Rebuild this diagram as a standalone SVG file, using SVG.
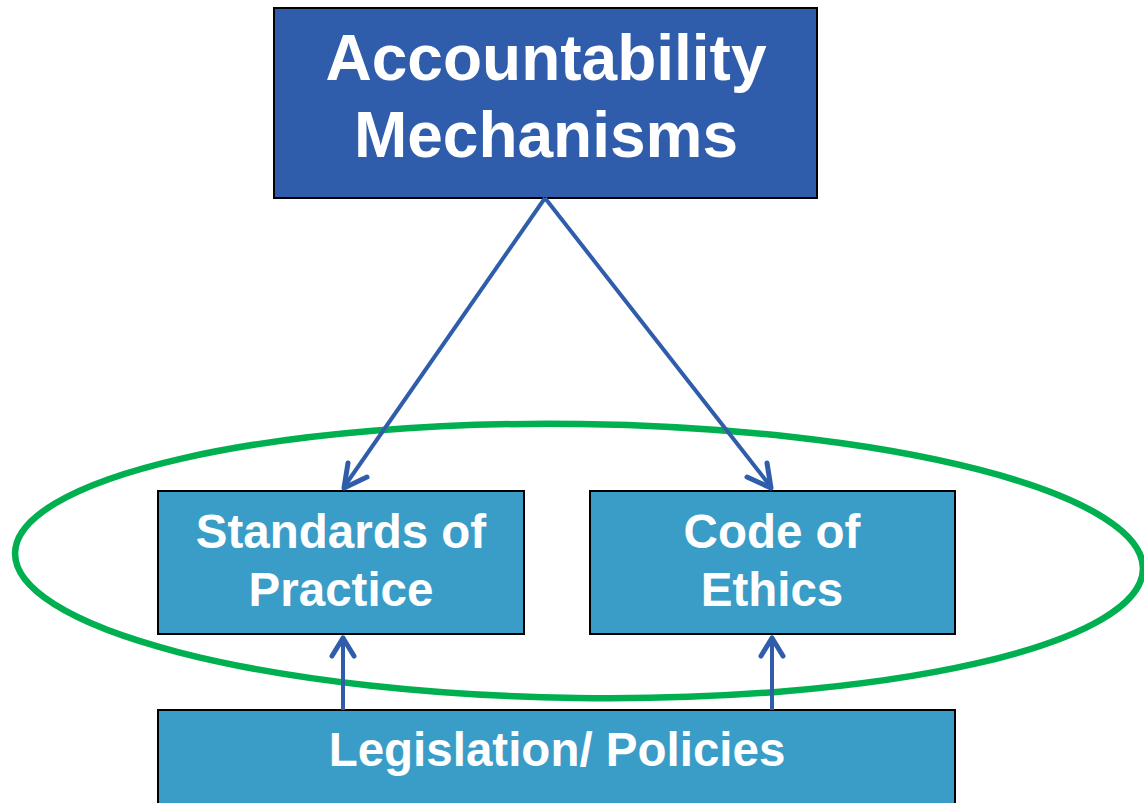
<svg xmlns="http://www.w3.org/2000/svg" width="1144" height="803" viewBox="0 0 1144 803">
  <style>
    .box { stroke: #000; stroke-width: 2; }
    .dark { fill: #2f5dab; }
    .light { fill: #399dc8; }
    .lbl { font-family: "Liberation Sans", Arial, sans-serif; font-weight: bold; fill: #fff; text-anchor: middle; }
    .conn { stroke: #2f5dab; stroke-width: 4; fill: none; }
    .head { stroke: #2f5dab; stroke-width: 5; fill: none; stroke-linecap: round; stroke-linejoin: round; }
  </style>
  <rect width="1144" height="803" fill="#fff"/>

  <g id="top-node">
    <rect class="box dark" x="274" y="8" width="543" height="190"/>
    <text class="lbl" x="546" y="80" font-size="64">Accountability</text>
    <text class="lbl" x="546" y="157" font-size="64">Mechanisms</text>
  </g>

  <g id="standards-node">
    <rect class="box light" x="158" y="491" width="366" height="143"/>
    <text class="lbl" x="341" y="548" font-size="47.5">Standards of</text>
    <text class="lbl" x="341" y="606" font-size="47.5">Practice</text>
  </g>

  <g id="ethics-node">
    <rect class="box light" x="590" y="491" width="365" height="143"/>
    <text class="lbl" x="772" y="548" font-size="47.5">Code of</text>
    <text class="lbl" x="772" y="606" font-size="47.5">Ethics</text>
  </g>

  <g id="legislation-node">
    <rect class="box light" x="158" y="710" width="797" height="100"/>
    <text class="lbl" x="557" y="766" font-size="47.5">Legislation/ Policies</text>
  </g>

  <g id="grouping">
    <ellipse cx="579" cy="561" rx="564" ry="137" fill="none" stroke="#00b050" stroke-width="6.5" transform="rotate(0.8 579 561)"/>
  </g>

  <g id="connectors">
    <line class="conn" x1="545" y1="198" x2="344" y2="487"/>
    <path class="head" d="M348,463 L344,488 L367,477"/>
    <line class="conn" x1="545" y1="198" x2="771" y2="487"/>
    <path class="head" d="M747,477 L771,488 L767,463"/>
    <line class="conn" x1="343" y1="710" x2="343" y2="639"/>
    <path class="head" d="M332,656 L343,638 L354,656"/>
    <line class="conn" x1="772" y1="710" x2="772" y2="639"/>
    <path class="head" d="M761,656 L772,638 L783,656"/>
  </g>
</svg>
